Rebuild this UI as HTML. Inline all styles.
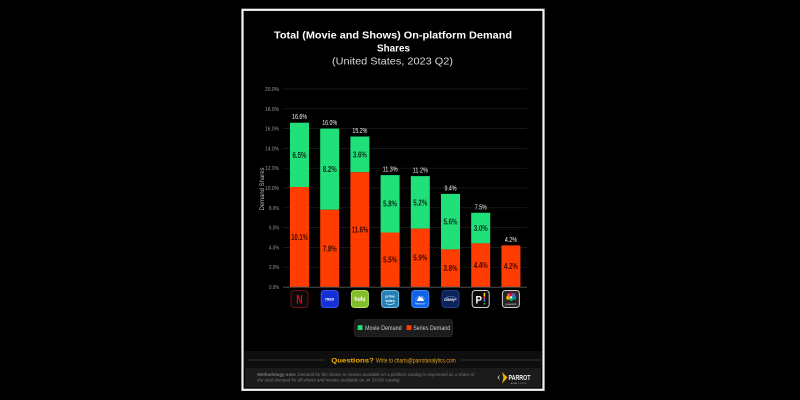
<!DOCTYPE html>
<html>
<head>
<meta charset="utf-8">
<style>
html,body{margin:0;padding:0;background:#000;width:800px;height:400px;overflow:hidden}
svg{display:block}
.n{font-family:"Liberation Sans Narrow","Liberation Sans",sans-serif}
</style>
</head>
<body>
<svg width="800" height="400" viewBox="0 0 800 400" xmlns="http://www.w3.org/2000/svg" font-family="Liberation Sans, sans-serif">
<rect x="0" y="0" width="800" height="400" fill="#000"/>
<!-- frame -->
<rect x="242.5" y="9.8" width="301" height="380" fill="#000" stroke="#f4f4f4" stroke-width="2.2"/>

<!-- titles -->
<text x="274" y="38.5" font-size="10.5" font-weight="bold" fill="#fff" textLength="238" lengthAdjust="spacingAndGlyphs">Total (Movie and Shows) On-platform Demand</text>
<text x="377" y="51.5" font-size="10.5" font-weight="bold" fill="#fff" textLength="33" lengthAdjust="spacingAndGlyphs">Shares</text>
<text x="332" y="64.5" font-size="10.5" fill="#d8d8d8" textLength="121" lengthAdjust="spacingAndGlyphs">(United States, 2023 Q2)</text>

<!-- gridlines -->
<g stroke="#202020" stroke-width="0.7">
<line x1="283" y1="267.2" x2="527" y2="267.2"/>
<line x1="283" y1="247.4" x2="527" y2="247.4"/>
<line x1="283" y1="227.6" x2="527" y2="227.6"/>
<line x1="283" y1="207.8" x2="527" y2="207.8"/>
<line x1="283" y1="188" x2="527" y2="188"/>
<line x1="283" y1="168.2" x2="527" y2="168.2"/>
<line x1="283" y1="148.4" x2="527" y2="148.4"/>
<line x1="283" y1="128.6" x2="527" y2="128.6"/>
<line x1="283" y1="108.8" x2="527" y2="108.8"/>
<line x1="283" y1="89" x2="527" y2="89"/>
</g>

<!-- y labels -->
<g class="n" font-size="5.5" fill="#9a9a9a">
<text x="269" y="289" textLength="10.3" lengthAdjust="spacingAndGlyphs">0.0%</text>
<text x="269" y="269.2" textLength="10.3" lengthAdjust="spacingAndGlyphs">2.0%</text>
<text x="269" y="249.4" textLength="10.3" lengthAdjust="spacingAndGlyphs">4.0%</text>
<text x="269" y="229.6" textLength="10.3" lengthAdjust="spacingAndGlyphs">6.0%</text>
<text x="269" y="209.8" textLength="10.3" lengthAdjust="spacingAndGlyphs">8.0%</text>
<text x="265" y="190" textLength="14" lengthAdjust="spacingAndGlyphs">10.0%</text>
<text x="265" y="170.2" textLength="14" lengthAdjust="spacingAndGlyphs">12.0%</text>
<text x="265" y="150.4" textLength="14" lengthAdjust="spacingAndGlyphs">14.0%</text>
<text x="265" y="130.6" textLength="14" lengthAdjust="spacingAndGlyphs">16.0%</text>
<text x="265" y="110.8" textLength="14" lengthAdjust="spacingAndGlyphs">18.0%</text>
<text x="265" y="91" textLength="14" lengthAdjust="spacingAndGlyphs">20.0%</text>
</g>
<text x="0" y="0" font-size="6" fill="#bdbdbd" textLength="43" lengthAdjust="spacingAndGlyphs" transform="translate(264.2,210.5) rotate(-90)">Demand Shares</text>

<!-- bars -->
<g>
<rect x="290" y="122.7" width="19" height="64.3" fill="#20e07a"/>
<rect x="290" y="187" width="19" height="100" fill="#ff3d00"/>
<rect x="320.2" y="128.6" width="19" height="81.2" fill="#20e07a"/>
<rect x="320.2" y="209.8" width="19" height="77.2" fill="#ff3d00"/>
<rect x="350.4" y="136.5" width="19" height="35.7" fill="#20e07a"/>
<rect x="350.4" y="172.2" width="19" height="114.8" fill="#ff3d00"/>
<rect x="380.6" y="175.1" width="19" height="57.4" fill="#20e07a"/>
<rect x="380.6" y="232.5" width="19" height="54.5" fill="#ff3d00"/>
<rect x="410.8" y="176.1" width="19" height="52.5" fill="#20e07a"/>
<rect x="410.8" y="228.6" width="19" height="58.4" fill="#ff3d00"/>
<rect x="441" y="193.9" width="19" height="55.5" fill="#20e07a"/>
<rect x="441" y="249.4" width="19" height="37.6" fill="#ff3d00"/>
<rect x="471.2" y="212.75" width="19" height="30.65" fill="#20e07a"/>
<rect x="471.2" y="243.4" width="19" height="43.6" fill="#ff3d00"/>
<rect x="501.4" y="245.4" width="19" height="41.6" fill="#ff3d00"/>
</g>
<line x1="283" y1="287.2" x2="527" y2="287.2" stroke="#5a5a5a" stroke-width="0.8"/>

<!-- total labels -->
<g class="n" font-size="7.5" fill="#f2f2f2">
<text x="292" y="119.2" textLength="15" lengthAdjust="spacingAndGlyphs">16.6%</text>
<text x="322.2" y="125.1" textLength="15" lengthAdjust="spacingAndGlyphs">16.0%</text>
<text x="352.4" y="133" textLength="15" lengthAdjust="spacingAndGlyphs">15.2%</text>
<text x="382.6" y="171.6" textLength="15" lengthAdjust="spacingAndGlyphs">11.3%</text>
<text x="412.8" y="172.6" textLength="15" lengthAdjust="spacingAndGlyphs">11.2%</text>
<text x="444.5" y="190.4" textLength="12" lengthAdjust="spacingAndGlyphs">9.4%</text>
<text x="474.7" y="209.25" textLength="12" lengthAdjust="spacingAndGlyphs">7.5%</text>
<text x="504.9" y="241.9" textLength="12" lengthAdjust="spacingAndGlyphs">4.2%</text>
</g>

<!-- inner labels -->
<g class="n" font-size="8" font-weight="bold">
<g fill="#0d2a18">
<text x="292.5" y="157.8" textLength="14" lengthAdjust="spacingAndGlyphs">6.5%</text>
<text x="322.7" y="172.1" textLength="14" lengthAdjust="spacingAndGlyphs">8.2%</text>
<text x="352.9" y="157.3" textLength="14" lengthAdjust="spacingAndGlyphs">3.6%</text>
<text x="383.1" y="206.7" textLength="14" lengthAdjust="spacingAndGlyphs">5.8%</text>
<text x="413.3" y="205.3" textLength="14" lengthAdjust="spacingAndGlyphs">5.2%</text>
<text x="443.5" y="224.6" textLength="14" lengthAdjust="spacingAndGlyphs">5.6%</text>
<text x="473.7" y="231" textLength="14" lengthAdjust="spacingAndGlyphs">3.0%</text>
</g>
<g fill="#3a0900">
<text x="291.3" y="239.9" textLength="16.5" lengthAdjust="spacingAndGlyphs">10.1%</text>
<text x="322.7" y="251.3" textLength="14" lengthAdjust="spacingAndGlyphs">7.8%</text>
<text x="351.7" y="232.5" textLength="16.5" lengthAdjust="spacingAndGlyphs">11.6%</text>
<text x="383.1" y="262.7" textLength="14" lengthAdjust="spacingAndGlyphs">5.5%</text>
<text x="413.3" y="260.7" textLength="14" lengthAdjust="spacingAndGlyphs">5.9%</text>
<text x="443.5" y="271.1" textLength="14" lengthAdjust="spacingAndGlyphs">3.8%</text>
<text x="473.7" y="268.1" textLength="14" lengthAdjust="spacingAndGlyphs">4.4%</text>
<text x="503.9" y="269.1" textLength="14" lengthAdjust="spacingAndGlyphs">4.2%</text>
</g>
</g>

<!-- logos -->
<!-- Netflix -->
<rect x="291" y="290.5" width="17" height="17" rx="3" fill="#0b0b0b" stroke="#741010" stroke-width="1"/>
<text class="n" x="296.3" y="303.5" font-size="12" font-weight="bold" fill="#e50914" textLength="6.4" lengthAdjust="spacingAndGlyphs">N</text>
<!-- Max -->
<rect x="321.2" y="290.5" width="17" height="17" rx="3" fill="#1531d6" stroke="#3452f2" stroke-width="1"/>
<text x="325.2" y="300.6" font-size="4.5" font-weight="bold" fill="#fff" textLength="9" lengthAdjust="spacingAndGlyphs">max</text>
<!-- Hulu -->
<rect x="351.4" y="290.5" width="17" height="17" rx="3" fill="#82bd2c" stroke="#b2dc5e" stroke-width="1"/>
<text x="354.4" y="301" font-size="6" font-weight="bold" fill="#fff" textLength="11" lengthAdjust="spacingAndGlyphs">hulu</text>
<!-- Prime video -->
<rect x="381.6" y="290.5" width="17" height="17" rx="3" fill="#2380b4" stroke="#6ec3ea" stroke-width="1"/>
<text x="385.3" y="297.6" font-size="4" font-weight="bold" fill="#fff" textLength="9.5" lengthAdjust="spacingAndGlyphs">prime</text>
<text x="385.3" y="302" font-size="4" font-weight="bold" fill="#fff" textLength="9.5" lengthAdjust="spacingAndGlyphs">video</text>
<path d="M386 303.5 Q390 305.5 394.5 303.3" stroke="#fff" stroke-width="0.6" fill="none"/>
<!-- Paramount+ -->
<rect x="411.8" y="290.5" width="17" height="17" rx="3" fill="#0f63e6" stroke="#3f8cff" stroke-width="1"/>
<path d="M415.5 299.5 A5 5 0 0 1 425 299.5" stroke="#dfe9ff" stroke-width="0.6" fill="none" stroke-dasharray="0.6 0.6"/>
<path d="M416.5 301 L419.5 296 L421 298 L422 296.8 L424.2 301 Z" fill="#fff"/>
<text x="415" y="304.6" font-size="2.6" fill="#fff" textLength="10.6" lengthAdjust="spacingAndGlyphs">Paramount+</text>
<!-- Disney+ -->
<rect x="442" y="290.5" width="17" height="17" rx="3" fill="#0d2357" stroke="#1e3f8c" stroke-width="1"/>
<text x="444.3" y="300.8" font-size="4.2" font-style="italic" font-weight="bold" fill="#fff" textLength="12.4" lengthAdjust="spacingAndGlyphs">Disney+</text>
<path d="M444.5 298.5 Q450.5 294.3 456.5 298.2" stroke="#7fb0ff" stroke-width="0.4" fill="none"/>
<!-- P! -->
<rect x="472.2" y="290.5" width="17" height="17" rx="3" fill="#0a0a0a" stroke="#d4d4d4" stroke-width="1"/>
<text x="475.5" y="303.3" font-size="11" font-weight="bold" fill="#fff" textLength="6.5" lengthAdjust="spacingAndGlyphs">P</text>
<rect x="483.6" y="292.8" width="1.6" height="3.2" fill="#ffd000"/>
<rect x="483.6" y="296" width="1.6" height="3.2" fill="#ff3a3a"/>
<rect x="483.6" y="299.2" width="1.6" height="2.6" fill="#3a7bff"/>
<rect x="483.6" y="303" width="1.6" height="1.6" fill="#22c55e"/>
<!-- Peacock -->
<rect x="502.4" y="290.5" width="17" height="17" rx="3" fill="#262626" stroke="#cfcfcf" stroke-width="1"/>
<circle cx="508.2" cy="297.8" r="2" fill="#fcb711"/>
<circle cx="509.3" cy="295.3" r="2" fill="#f37021"/>
<circle cx="511.4" cy="294.4" r="2" fill="#cc004c"/>
<circle cx="513.5" cy="295.3" r="2" fill="#6460aa"/>
<circle cx="514.2" cy="297.8" r="2" fill="#0089d0"/>
<circle cx="511.2" cy="299" r="1.9" fill="#0db14b"/>
<circle cx="511.2" cy="297.4" r="1.1" fill="#fff"/>
<text x="505.6" y="305" font-size="2.4" fill="#ddd" textLength="10.6" lengthAdjust="spacingAndGlyphs">peacock</text>

<!-- legend -->
<rect x="354.2" y="319.4" width="98.5" height="17.3" rx="3" fill="#1c1c1c" stroke="#2b2b2b" stroke-width="0.6"/>
<rect x="357.7" y="325.2" width="4.8" height="4.8" fill="#20e07a"/>
<text x="365" y="330" font-size="6" fill="#cfcfcf" textLength="36.7" lengthAdjust="spacingAndGlyphs">Movie Demand</text>
<rect x="406.6" y="325.2" width="4.8" height="4.8" fill="#ff3d00"/>
<text x="413.2" y="330" font-size="6" fill="#cfcfcf" textLength="37" lengthAdjust="spacingAndGlyphs">Series Demand</text>

<!-- footer -->
<rect x="244" y="351" width="298" height="17" fill="#0e0e0e"/>
<line x1="247" y1="360" x2="325" y2="360" stroke="#4a4030" stroke-width="0.7"/>
<line x1="461" y1="360" x2="541" y2="360" stroke="#4a4030" stroke-width="0.7"/>
<text x="331.3" y="362.3" font-size="6.5" font-weight="bold" fill="#f2b200" textLength="42.5" lengthAdjust="spacingAndGlyphs">Questions?</text>
<text x="376" y="362.3" font-size="6.5" fill="#e5a51c" textLength="79.7" lengthAdjust="spacingAndGlyphs">Write to charts@parrotanalytics.com</text>
<rect x="245" y="368" width="296" height="19.5" fill="#1b1b1b"/>
<text x="257.3" y="375.8" font-size="4.3" fill="#7a7a7a" textLength="216.7" lengthAdjust="spacingAndGlyphs"><tspan font-weight="bold">Methodology note:</tspan><tspan font-style="italic"> Demand for the shows or movies available on a platform catalog is expressed as a share of</tspan></text>
<text x="257.3" y="381.5" font-size="4.3" font-style="italic" fill="#7a7a7a" textLength="143.4" lengthAdjust="spacingAndGlyphs">the total demand for all shows and movies available on an SVOD catalog.</text>
<!-- parrot logo -->
<path d="M499.5 375.5 L498 377.5 L499.5 379.5" stroke="#ddd" stroke-width="0.7" fill="none"/>
<path d="M502 372 L507.5 377.5 L502 383.5 L503.5 377.5 Z" fill="#f5b800"/>
<text x="508.5" y="380" font-size="7" font-weight="bold" fill="#f0f0f0" textLength="22" lengthAdjust="spacingAndGlyphs">PARROT</text>
<text x="510.5" y="383.8" font-size="2.2" fill="#999" textLength="16" lengthAdjust="spacingAndGlyphs">ANALYTICS</text>
</svg>
</body>
</html>
